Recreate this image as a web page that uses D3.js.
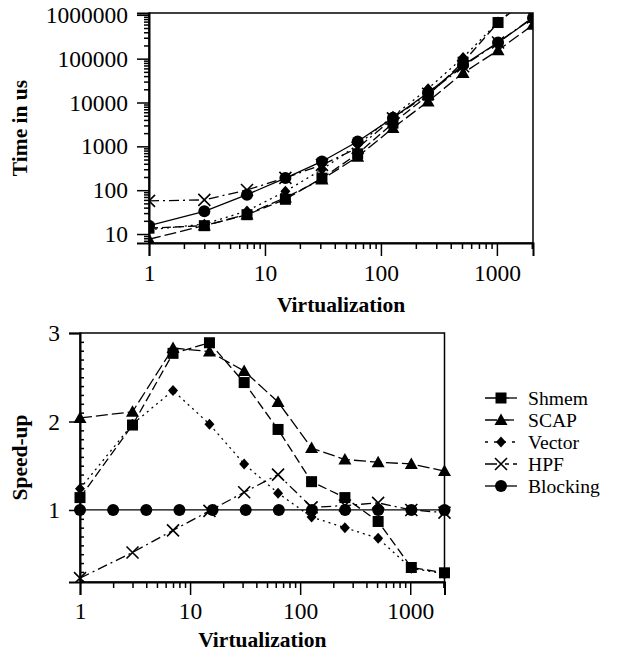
<!DOCTYPE html>
<html>
<head>
<meta charset="utf-8">
<script src="https://cdn.jsdelivr.net/npm/d3@7"></script>
<style>
  body { margin: 0; background: #fff; }
  svg { display: block; }
  svg text { font-family: "Liberation Serif", "DejaVu Serif", serif; fill: #000; }
  .axis path, .axis line { stroke: #000; }
  .axis text { font-size: 23.5px; }
  .title { font-size: 21.5px; font-weight: bold; }
</style>
</head>
<body>
<svg id="chart" width="623" height="653"></svg>
<script>
// x positions
const virt = [1, 3, 7, 15, 31, 63, 127, 255, 511, 1023, 2047];
const virtBlocking = [1, 2, 4, 8, 16, 32, 64, 128, 256, 512, 1024, 2048];

// top: time in us
const timeShmem = [13.6, 15.5, 27.6, 62, 188, 675, 3380, 14600, 83000, 667000, 2900000];
const timeSCAP = [7.6, 15.6, 28, 68, 176, 580, 2620, 10600, 47000, 155000, 590000];
const timeVector = [12.5, 16.8, 33.6, 94, 297, 1080, 4850, 20700, 106000, 685000, 3000000];
const timeHPF = [57, 60, 101, 191, 377, 920, 4330, 15800, 67000, 233000, 876000];
const timeBlocking = [15.5, 33, 79, 189, 452, 1290, 4460, 16600, 72000, 233000, 850000];

// bottom: speed-up
const spShmem = [1.14, 1.96, 2.77, 2.89, 2.44, 1.91, 1.32, 1.14, 0.87, 0.35, 0.29];
const spSCAP = [2.04, 2.11, 2.83, 2.79, 2.57, 2.22, 1.70, 1.57, 1.54, 1.52, 1.44];
const spVector = [1.24, 1.97, 2.35, 1.97, 1.52, 1.19, 0.92, 0.80, 0.68, 0.34, 0.28];
const spHPF = [0.23, 0.52, 0.77, 0.99, 1.20, 1.40, 1.03, 1.05, 1.08, 1.00, 0.97];
const spBlocking = [1, 1, 1, 1, 1, 1, 1, 1, 1, 1, 1, 1];

const seriesNames = ["Shmem", "SCAP", "Vector", "HPF", "Blocking"];
const timeTicks = [10, 100, 1000, 10000, 100000, 1000000];
const xTicks = [1, 10, 100, 1000];
const spTicks = [1, 2, 3];

// styles per series (legend gets its own shorter dashes)
const style = {
  Shmem: { dash: "9,4", legendDash: "13,6", mark: "square" },
  SCAP: { dash: "12,4", legendDash: "12,5", mark: "triangle" },
  Vector: { dash: "2,4", legendDash: "3,6", mark: "diamond" },
  HPF: { dash: "10,4,2,4", legendDash: "12,8,4,4", mark: "x" },
  Blocking: { dash: null, legendDash: null, mark: "circle" }
};

const svg = d3.select("#chart");

function drawMarker(g, type, x, y) {
  if (type === "square") {
    g.append("rect").attr("x", x - 5.5).attr("y", y - 5.5).attr("width", 11).attr("height", 11).attr("fill", "#000");
  } else if (type === "triangle") {
    g.append("path").attr("d", `M${x},${y - 6.5}L${x + 6.5},${y + 5}L${x - 6.5},${y + 5}Z`).attr("fill", "#000");
  } else if (type === "diamond") {
    g.append("path").attr("d", `M${x},${y - 5.5}L${x + 5},${y}L${x},${y + 5.5}L${x - 5},${y}Z`).attr("fill", "#000");
  } else if (type === "circle") {
    g.append("circle").attr("cx", x).attr("cy", y).attr("r", 6).attr("fill", "#000");
  } else if (type === "x") {
    g.append("path").attr("d", `M${x - 6},${y - 6}L${x + 6},${y + 6}M${x - 6},${y + 6}L${x + 6},${y - 6}`)
      .attr("stroke", "#000").attr("stroke-width", 1.6).attr("fill", "none");
  }
}

function minorTicks(lo, hi) {
  const out = [];
  for (let d = 1; d <= 1e7; d *= 10) {
    for (let m = 2; m <= 9; m++) {
      const v = m * d;
      if (v > lo && v < hi) out.push(v);
    }
  }
  return out;
}

// d3 axis puts its own sans-serif font on the group; drop it
function cleanAxis(g, w) {
  g.attr("font-family", null).attr("font-size", null);
  g.select(".domain").attr("stroke-width", w);
  g.selectAll(".tick line").attr("stroke-width", 1.5);
}

function drawSeries(g, x, y, xsFor, data, clipId) {
  const lg = g.append("g").attr("clip-path", `url(#${clipId})`);
  seriesNames.forEach(name => {
    const xv = xsFor(name);
    const pts = data[name].map((v, i) => [x(xv[i]), y(v)]);
    lg.append("path")
      .attr("d", d3.line()(pts))
      .attr("fill", "none")
      .attr("stroke", "#000")
      .attr("stroke-width", 1.3)
      .attr("stroke-dasharray", style[name].dash);
  });
  seriesNames.forEach(name => {
    const xv = xsFor(name);
    data[name].forEach((v, i) => drawMarker(lg, style[name].mark, x(xv[i]), y(v)));
  });
}

// ---------- TOP CHART ----------
const t = { left: 149, right: 533, top: 13, bottom: 243 };
const xTop = d3.scaleLog().domain([1, 2048]).range([t.left, t.right]);
const yTop = d3.scaleLog().domain([6.24, 1.1e6]).range([t.bottom, t.top]);

svg.append("clipPath").attr("id", "clipTop").append("rect")
  .attr("x", t.left).attr("y", t.top).attr("width", t.right - t.left).attr("height", t.bottom - t.top);

const topG = svg.append("g");
topG.append("rect").attr("x", t.left).attr("y", t.top).attr("width", t.right - t.left).attr("height", t.bottom - t.top)
  .attr("fill", "none").attr("stroke", "#000").attr("stroke-width", 1.5);

topG.append("g").attr("class", "axis").attr("transform", `translate(0,${t.bottom})`)
  .call(d3.axisBottom(xTop).tickValues(xTicks).tickFormat(d3.format("d")).tickSize(13).tickPadding(8))
  .call(g => cleanAxis(g, 2));
topG.append("g").attr("class", "axis").attr("transform", `translate(0,${t.bottom})`)
  .call(d3.axisBottom(xTop).tickValues(minorTicks(1, 2049)).tickFormat("").tickSize(6))
  .call(g => cleanAxis(g, 0));

topG.append("g").attr("class", "axis").attr("transform", `translate(${t.left},0)`)
  .call(d3.axisLeft(yTop).tickValues(timeTicks).tickFormat(d3.format("d")).tickSize(12).tickPadding(9))
  .call(g => cleanAxis(g, 2));
topG.append("g").attr("class", "axis").attr("transform", `translate(${t.left},0)`)
  .call(d3.axisLeft(yTop).tickValues(minorTicks(6.24, 1.1e6)).tickFormat("").tickSize(5))
  .call(g => cleanAxis(g, 0));

const timeData = { Shmem: timeShmem, SCAP: timeSCAP, Vector: timeVector, HPF: timeHPF, Blocking: timeBlocking };
drawSeries(topG, xTop, yTop, () => virt, timeData, "clipTop");

topG.append("text").attr("class", "title").attr("text-anchor", "middle")
  .attr("x", (t.left + t.right) / 2).attr("y", 312).text("Virtualization");
topG.append("text").attr("class", "title").attr("text-anchor", "middle")
  .attr("transform", `translate(27,${(t.top + t.bottom) / 2}) rotate(-90)`).text("Time in us");

// ---------- BOTTOM CHART ----------
const b = { left: 80, right: 444.5, top: 333, bottom: 582 };
const xBot = d3.scaleLog().domain([1, 2048]).range([b.left, b.right]);
const yBot = d3.scaleLinear().domain([0.186, 3]).range([b.bottom, b.top]);

svg.append("clipPath").attr("id", "clipBot").append("rect")
  .attr("x", b.left - 7).attr("y", b.top - 7).attr("width", b.right - b.left + 14).attr("height", b.bottom - b.top + 7);

const botG = svg.append("g");
botG.append("rect").attr("x", b.left).attr("y", b.top).attr("width", b.right - b.left).attr("height", b.bottom - b.top)
  .attr("fill", "none").attr("stroke", "#000").attr("stroke-width", 1.5);

botG.append("g").attr("class", "axis").attr("transform", `translate(0,${b.bottom})`)
  .call(d3.axisBottom(xBot).tickValues(xTicks).tickFormat(d3.format("d")).tickSize(13).tickPadding(7))
  .call(g => cleanAxis(g, 2));
botG.append("g").attr("class", "axis").attr("transform", `translate(0,${b.bottom})`)
  .call(d3.axisBottom(xBot).tickValues(minorTicks(1, 2049)).tickFormat("").tickSize(6))
  .call(g => cleanAxis(g, 0));

botG.append("g").attr("class", "axis").attr("transform", `translate(${b.left},0)`)
  .call(d3.axisLeft(yBot).tickValues(spTicks).tickFormat(d3.format("d")).tickSize(11).tickPadding(9))
  .call(g => cleanAxis(g, 2));
const spMinor = d3.range(2, 30).map(v => v / 10).filter(v => v % 1 !== 0);
botG.append("g").attr("class", "axis").attr("transform", `translate(${b.left},0)`)
  .call(d3.axisRight(yBot).tickValues(spMinor).tickFormat("").tickSize(4))
  .call(g => cleanAxis(g, 0));

const spData = { Shmem: spShmem, SCAP: spSCAP, Vector: spVector, HPF: spHPF, Blocking: spBlocking };
drawSeries(botG, xBot, yBot, n => (n === "Blocking" ? virtBlocking : virt), spData, "clipBot");

botG.append("text").attr("class", "title").attr("text-anchor", "middle")
  .attr("x", (b.left + b.right) / 2).attr("y", 647).text("Virtualization");
botG.append("text").attr("class", "title").attr("text-anchor", "middle")
  .attr("transform", `translate(27,${(b.top + b.bottom) / 2}) rotate(-90)`).text("Speed-up");

// ---------- LEGEND ----------
const legend = svg.append("g");
seriesNames.forEach((name, i) => {
  const y = 398 + i * 22;
  legend.append("line").attr("x1", 485).attr("x2", 517).attr("y1", y).attr("y2", y)
    .attr("stroke", "#000").attr("stroke-width", 1.3).attr("stroke-dasharray", style[name].legendDash);
  drawMarker(legend, style[name].mark, 501, y);
  legend.append("text").attr("x", 528).attr("y", y + 7).attr("font-size", 19.6).text(name);
});
</script>
</body>
</html>
